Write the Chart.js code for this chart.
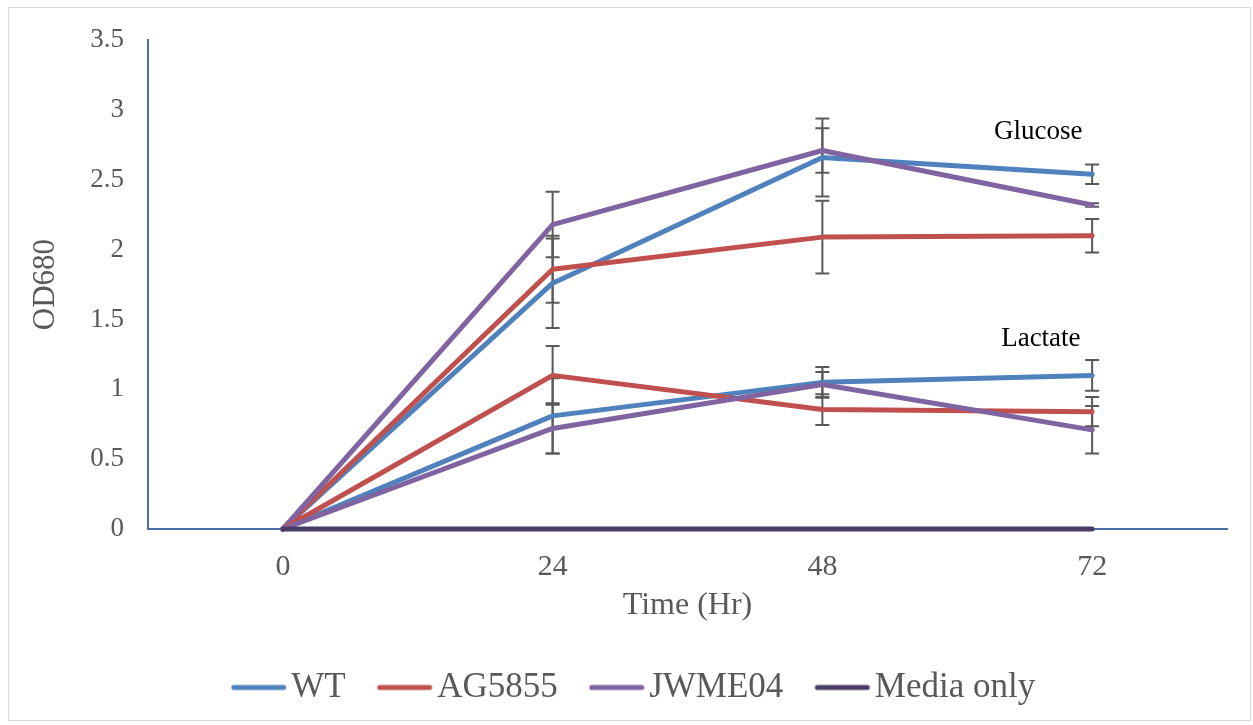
<!DOCTYPE html>
<html>
<head>
<meta charset="utf-8">
<script src="https://cdn.jsdelivr.net/npm/chart.js@4.4.0/dist/chart.umd.min.js"></script>
<style>
  html, body { margin: 0; padding: 0; background: #fff; }
  #wrap { position: relative; width: 1253px; height: 725px; }
  #frame { position: absolute; left: 8px; top: 7px; width: 1241px; height: 712px; border: 1px solid #d9d9d9; pointer-events: none; }
</style>
</head>
<body>
<div id="wrap">
  <canvas id="growth-chart" width="1253" height="725"></canvas>
  <div id="frame"></div>
</div>
<script>
// time points (hr)
const hours = ['0', '24', '48', '72'];

// glucose-grown cultures, OD680
const wtGlucose    = [0, 1.76, 2.66, 2.54];
const wtGlucoseErr = [0, 0.32, 0.28, 0.07];
const agGlucose    = [0, 1.86, 2.09, 2.10];
const agGlucoseErr = [0, 0.24, 0.26, 0.12];
const jwGlucose    = [0, 2.18, 2.71, 2.32];
const jwGlucoseErr = [0, 0.235, 0.16, 0.012];

// lactate-grown cultures, OD680
const wtLactate    = [0, 0.81, 1.05, 1.10];
const wtLactateErr = [0, 0.27, 0.11, 0.11];
const agLactate    = [0, 1.10, 0.855, 0.84];
const agLactateErr = [0, 0.21, 0.11, 0.105];
const jwLactate    = [0, 0.72, 1.035, 0.71];
const jwLactateErr = [0, 0.18, 0.09, 0.17];

const mediaOnly = [0, 0, 0, 0];

// panel labels: [text, x index, y value]
const panelLabels = [['Glucose', 2.8, 2.84], ['Lactate', 2.81, 1.36]];

const BLUE = '#4f81bd', RED = '#c0504d', PURPLE = '#8064a2', DARK = '#4b3b67';
const GREY = '#595959';
const FONT = "'Liberation Serif', 'Times New Roman', serif";

function lineMarker(color) {
  const c = document.createElement('canvas');
  c.width = 58; c.height = 8;
  const g = c.getContext('2d');
  g.strokeStyle = color; g.lineWidth = 5; g.lineCap = 'round';
  g.beginPath(); g.moveTo(4, 4); g.lineTo(54, 4); g.stroke();
  return c;
}

function series(label, data, err, color, order) {
  return {
    label, data, err,
    borderColor: color, backgroundColor: color,
    borderWidth: 5, borderCapStyle: 'round', borderJoinStyle: 'round',
    pointRadius: 0, pointHoverRadius: 0, tension: 0, fill: false,
    clip: false, order
  };
}

const datasets = [
  series('WT', wtGlucose, wtGlucoseErr, BLUE, 7),
  series('AG5855', agGlucose, agGlucoseErr, RED, 6),
  series('JWME04', jwGlucose, jwGlucoseErr, PURPLE, 5),
  series('Media only', mediaOnly, null, DARK, 1),
  series('WT lactate', wtLactate, wtLactateErr, BLUE, 4),
  series('AG5855 lactate', agLactate, agLactateErr, RED, 3),
  series('JWME04 lactate', jwLactate, jwLactateErr, PURPLE, 2)
];
const legendShown = [0, 1, 2, 3];

const errorBars = {
  id: 'errorBars',
  beforeDatasetsDraw(chart) {
    const { ctx, scales: { x, y } } = chart;
    ctx.save();
    ctx.strokeStyle = GREY;
    ctx.lineWidth = 2;
    chart.data.datasets.forEach(ds => {
      if (!ds.err) return;
      ds.data.forEach((v, i) => {
        const e = ds.err[i];
        if (!e) return;
        const px = x.getPixelForValue(i);
        const top = y.getPixelForValue(v + e), bot = y.getPixelForValue(v - e);
        ctx.beginPath();
        ctx.moveTo(px, top); ctx.lineTo(px, bot);
        ctx.moveTo(px - 7, top); ctx.lineTo(px + 7, top);
        ctx.moveTo(px - 7, bot); ctx.lineTo(px + 7, bot);
        ctx.stroke();
      });
    });
    ctx.restore();
  }
};

const panelText = {
  id: 'panelText',
  afterDatasetsDraw(chart) {
    const { ctx, scales: { x, y } } = chart;
    ctx.save();
    ctx.fillStyle = '#000';
    ctx.font = `27px ${FONT}`;
    ctx.textAlign = 'center';
    ctx.textBaseline = 'middle';
    panelLabels.forEach(([t, xi, yv]) => ctx.fillText(t, x.getPixelForValue(xi), y.getPixelForValue(yv)));
    ctx.restore();
  }
};

new Chart(document.getElementById('growth-chart'), {
  type: 'line',
  data: { labels: hours, datasets },
  plugins: [errorBars, panelText],
  options: {
    responsive: false,
    animation: false,
    layout: { padding: { top: 38, right: 26, bottom: 10, left: 52 } },
    plugins: {
      tooltip: { enabled: false },
      legend: {
        position: 'bottom',
        labels: {
          color: GREY,
          font: { family: FONT, size: 35 },
          usePointStyle: true,
          pointStyleWidth: 30,
          padding: 44,
          filter: item => legendShown.includes(item.datasetIndex),
          sort: (a, b) => a.datasetIndex - b.datasetIndex,
          generateLabels(chart) {
            return Chart.defaults.plugins.legend.labels.generateLabels(chart)
              .map(l => ({ ...l, pointStyle: lineMarker(chart.data.datasets[l.datasetIndex].borderColor) }));
          }
        }
      }
    },
    scales: {
      x: {
        offset: true,
        grid: { display: false, drawTicks: false },
        border: { color: '#4a6fa5', width: 2 },
        ticks: { color: GREY, font: { family: FONT, size: 30 }, padding: 20, maxRotation: 0 },
        title: { display: true, text: 'Time (Hr)', color: GREY, font: { family: FONT, size: 32 }, padding: { top: 0, bottom: 1 } },
        afterFit(scale) { scale.height = 97; }
      },
      y: {
        min: 0, max: 3.5,
        grid: { display: false, drawTicks: false },
        border: { color: '#4a6fa5', width: 2 },
        ticks: { stepSize: 0.5, color: GREY, font: { family: FONT, size: 27 }, padding: 24, callback: v => String(v) },
        title: { display: true, text: 'OD680', color: GREY, font: { family: FONT, size: 31 }, padding: { top: -25, bottom: 0 } },
        afterFit(scale) { scale.width = 96; }
      }
    }
  }
});
</script>
</body>
</html>
